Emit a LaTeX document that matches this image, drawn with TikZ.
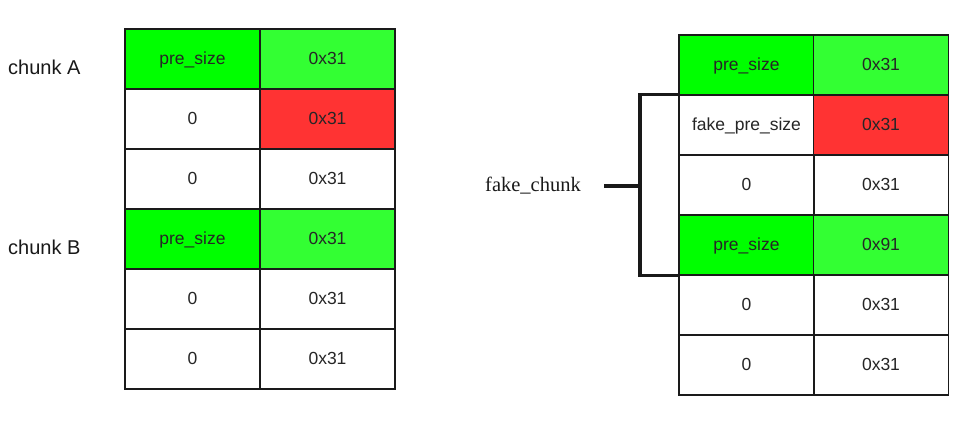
\documentclass[tikz,border=0pt]{standalone}
\usepackage{fontspec}
\setmainfont{Liberation Sans}
\newfontfamily\seriffont{Liberation Serif}
\definecolor{gA}{HTML}{00FF00}
\definecolor{gB}{HTML}{33FF33}
\definecolor{rC}{HTML}{FF3333}
\definecolor{bd}{HTML}{1A1A1A}
\tikzset{
  cell/.style={draw=bd, line width=1.3pt, minimum width=135pt, minimum height=60pt, inner sep=0pt, text height=11pt, text depth=0pt, font=\fontsize{17.5}{20}\selectfont, text=black!85},
  lbl/.style={font=\fontsize{20}{24}\selectfont, anchor=west, inner sep=0pt, text=black!90},
  brk/.style={line width=3.2pt, black!90}
}
\begin{document}
\begin{tikzpicture}[x=1pt,y=-1pt]
\useasboundingbox[fill=white] (0,0) rectangle (969,424);
% left table
\node[cell, fill=gA] (L11) at (192.5,59) {pre\_size};
\node[cell, fill=gB] (L12) at (327.5,59) {0x31};
\node[cell] (L21) at (192.5,119) {0};
\node[cell, fill=rC] (L22) at (327.5,119) {0x31};
\node[cell] (L31) at (192.5,179) {0};
\node[cell] (L32) at (327.5,179) {0x31};
\node[cell, fill=gA] (L41) at (192.5,239) {pre\_size};
\node[cell, fill=gB] (L42) at (327.5,239) {0x31};
\node[cell] (L51) at (192.5,299) {0};
\node[cell] (L52) at (327.5,299) {0x31};
\node[cell] (L61) at (192.5,359) {0};
\node[cell] (L62) at (327.5,359) {0x31};
\node[lbl] (ca) at (8,67) {chunk A};
\node[lbl] (cb) at (8,247) {chunk B};
% right table
\node[cell, fill=gA] (R11) at (746.5,65) {pre\_size};
\node[cell, fill=gB] (R12) at (881,65) {0x31};
\node[cell] (R21) at (746.5,125) {fake\_pre\_size};
\node[cell, fill=rC] (R22) at (881,125) {0x31};
\node[cell] (R31) at (746.5,185) {0};
\node[cell] (R32) at (881,185) {0x31};
\node[cell, fill=gA] (R41) at (746.5,245) {pre\_size};
\node[cell, fill=gB] (R42) at (881,245) {0x91};
\node[cell] (R51) at (746.5,305) {0};
\node[cell] (R52) at (881,305) {0x31};
\node[cell] (R61) at (746.5,365) {0};
\node[cell] (R62) at (881,365) {0x31};
% bracket
\node[font=\seriffont\fontsize{20.5}{24}\selectfont, inner sep=0pt, text=black!90] (fk) at (533,186) {fake\_chunk};
\coordinate (bx) at (640,0);
\coordinate (stem) at (604,186);
\draw[brk, line cap=rect] (R21.north west) -- (R21.north west -| bx) -- (R41.south west -| bx) -- (R41.south west);
\draw[brk] (stem) -- (stem -| bx);
\end{tikzpicture}
\end{document}
